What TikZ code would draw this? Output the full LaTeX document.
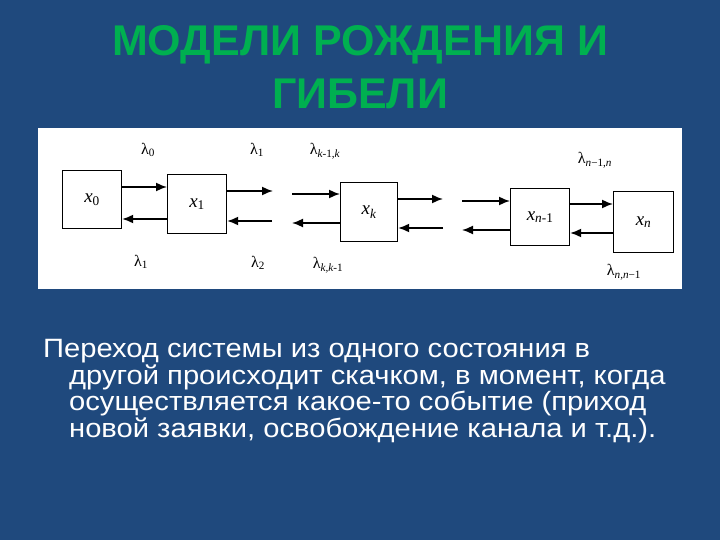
\documentclass[tikz,border=0pt]{standalone}
\usepackage{fontspec}
\setmainfont{Liberation Sans}
\newfontfamily\lamfont{Liberation Serif}
\usetikzlibrary{arrows.meta}
\definecolor{bgblue}{RGB}{31,73,125}
\definecolor{titlegreen}{RGB}{0,176,80}
\newcommand{\lam}[1]{{\lamfont λ\textsubscript{\itshape #1}}}
\newcommand{\xst}[1]{{\lamfont\itshape x\textsubscript{#1}}}
\newcommand{\up}{\upshape}
\newcommand{\wide}[1]{\scalebox{1.1}[1]{#1}}
\begin{document}
\begin{tikzpicture}[x=1pt,y=-1pt,
  statebox/.style={draw=black,line width=1.2pt,fill=white,minimum width=59pt,minimum height=58pt,anchor=north west,inner sep=0pt},
  arr/.style={-{Latex[length=11pt,width=9pt]},line width=1.6pt},
  lamlabel/.style={font=\fontsize{16}{18}\selectfont,text=black,inner sep=0pt},
  xlabel/.style={font=\fontsize{19}{21}\selectfont,text=black,inner sep=0pt},
  titletext/.style={font=\fontsize{43}{50}\selectfont\bfseries,text=titlegreen,anchor=base,inner sep=0pt},
  bodytext/.style={font=\fontsize{26.5}{28}\selectfont,text=white,anchor=base west,inner sep=0pt}]
\fill[bgblue] (0,0) rectangle (720,540);
\useasboundingbox (0,0) rectangle (720,540);
% title
\node[titletext] (t1) at (360,56) {МОДЕЛИ РОЖДЕНИЯ И};
\node[titletext] (t2) at (360,109) {ГИБЕЛИ};
% panel
\fill[white] (38,128) rectangle (682,289);
% boxes
\node[statebox] (b0) at (62,170) {};
\node[statebox,minimum height=59pt] (b1) at (167,174) {};
\node[statebox,minimum width=57pt,minimum height=59pt] (bk) at (340,182) {};
\node[statebox,minimum height=57pt] (bn1) at (510,188) {};
\node[statebox,minimum width=60pt,minimum height=61pt] (bn) at (613,191) {};
\node[xlabel] (l0) at (b0.center) {\xst{\up 0}};
\node[xlabel] (l1) at (b1.center) {\xst{\up 1}};
\node[xlabel] (lk) at (bk.center) {\xst{k}};
\node[xlabel] (ln1) at (bn1.center) {\xst{n\up -1}};
\node[xlabel] (ln) at (bn.center) {\xst{n}};
% free ends
\coordinate (a1) at (273,191);
\coordinate (a2) at (272,221);
\coordinate (a3) at (292,194);
\coordinate (a4) at (292,223);
\coordinate (a5) at (443,199);
\coordinate (a6) at (443,228);
\coordinate (a7) at (462,201);
\coordinate (a8) at (462,230);
% arrows
\draw[arr] (b0.east |- 0,187) -- (b1.west |- 0,187);
\draw[arr] (b1.west |- 0,219) -- (b0.east |- 0,219);
\draw[arr] (b1.east |- a1) -- (a1);
\draw[arr] (a2) -- (b1.east |- a2);
\draw[arr] (a3) -- (bk.west |- a3);
\draw[arr] (bk.west |- a4) -- (a4);
\draw[arr] (bk.east |- a5) -- (a5);
\draw[arr] (a6) -- (bk.east |- a6);
\draw[arr] (a7) -- (bn1.west |- a7);
\draw[arr] (bn1.west |- a8) -- (a8);
\draw[arr] (bn1.east |- 0,204) -- (bn.west |- 0,204);
\draw[arr] (bn.west |- 0,233) -- (bn1.east |- 0,233);
% lambda labels
\node[lamlabel] (la0) at (148,150) {\lam{\up 0}};
\node[lamlabel] (la1) at (257,150) {\lam{\up 1}};
\node[lamlabel] (la2) at (325,151) {\lam{k\up -1,\itshape k}};
\node[lamlabel] (la3) at (141,262) {\lam{\up 1}};
\node[lamlabel] (la4) at (258,263) {\lam{\up 2}};
\node[lamlabel] (la5) at (328,265) {\lam{k,k\up -1}};
\node[lamlabel] (la6) at (595,160) {\lam{n\up −1,\itshape n}};
\node[lamlabel] (la7) at (624,272) {\lam{n,n\up −1}};
% body text
\node[bodytext] (p1) at (43,357) {\wide{Переход системы из одного состояния в}};
\node[bodytext] (p2) at (69,384) {\wide{другой происходит скачком, в момент, когда}};
\node[bodytext] (p3) at (69,410) {\wide{осуществляется какое-то событие (приход}};
\node[bodytext] (p4) at (69,437) {\wide{новой заявки, освобождение канала и т.д.).}};
\end{tikzpicture}
\end{document}
